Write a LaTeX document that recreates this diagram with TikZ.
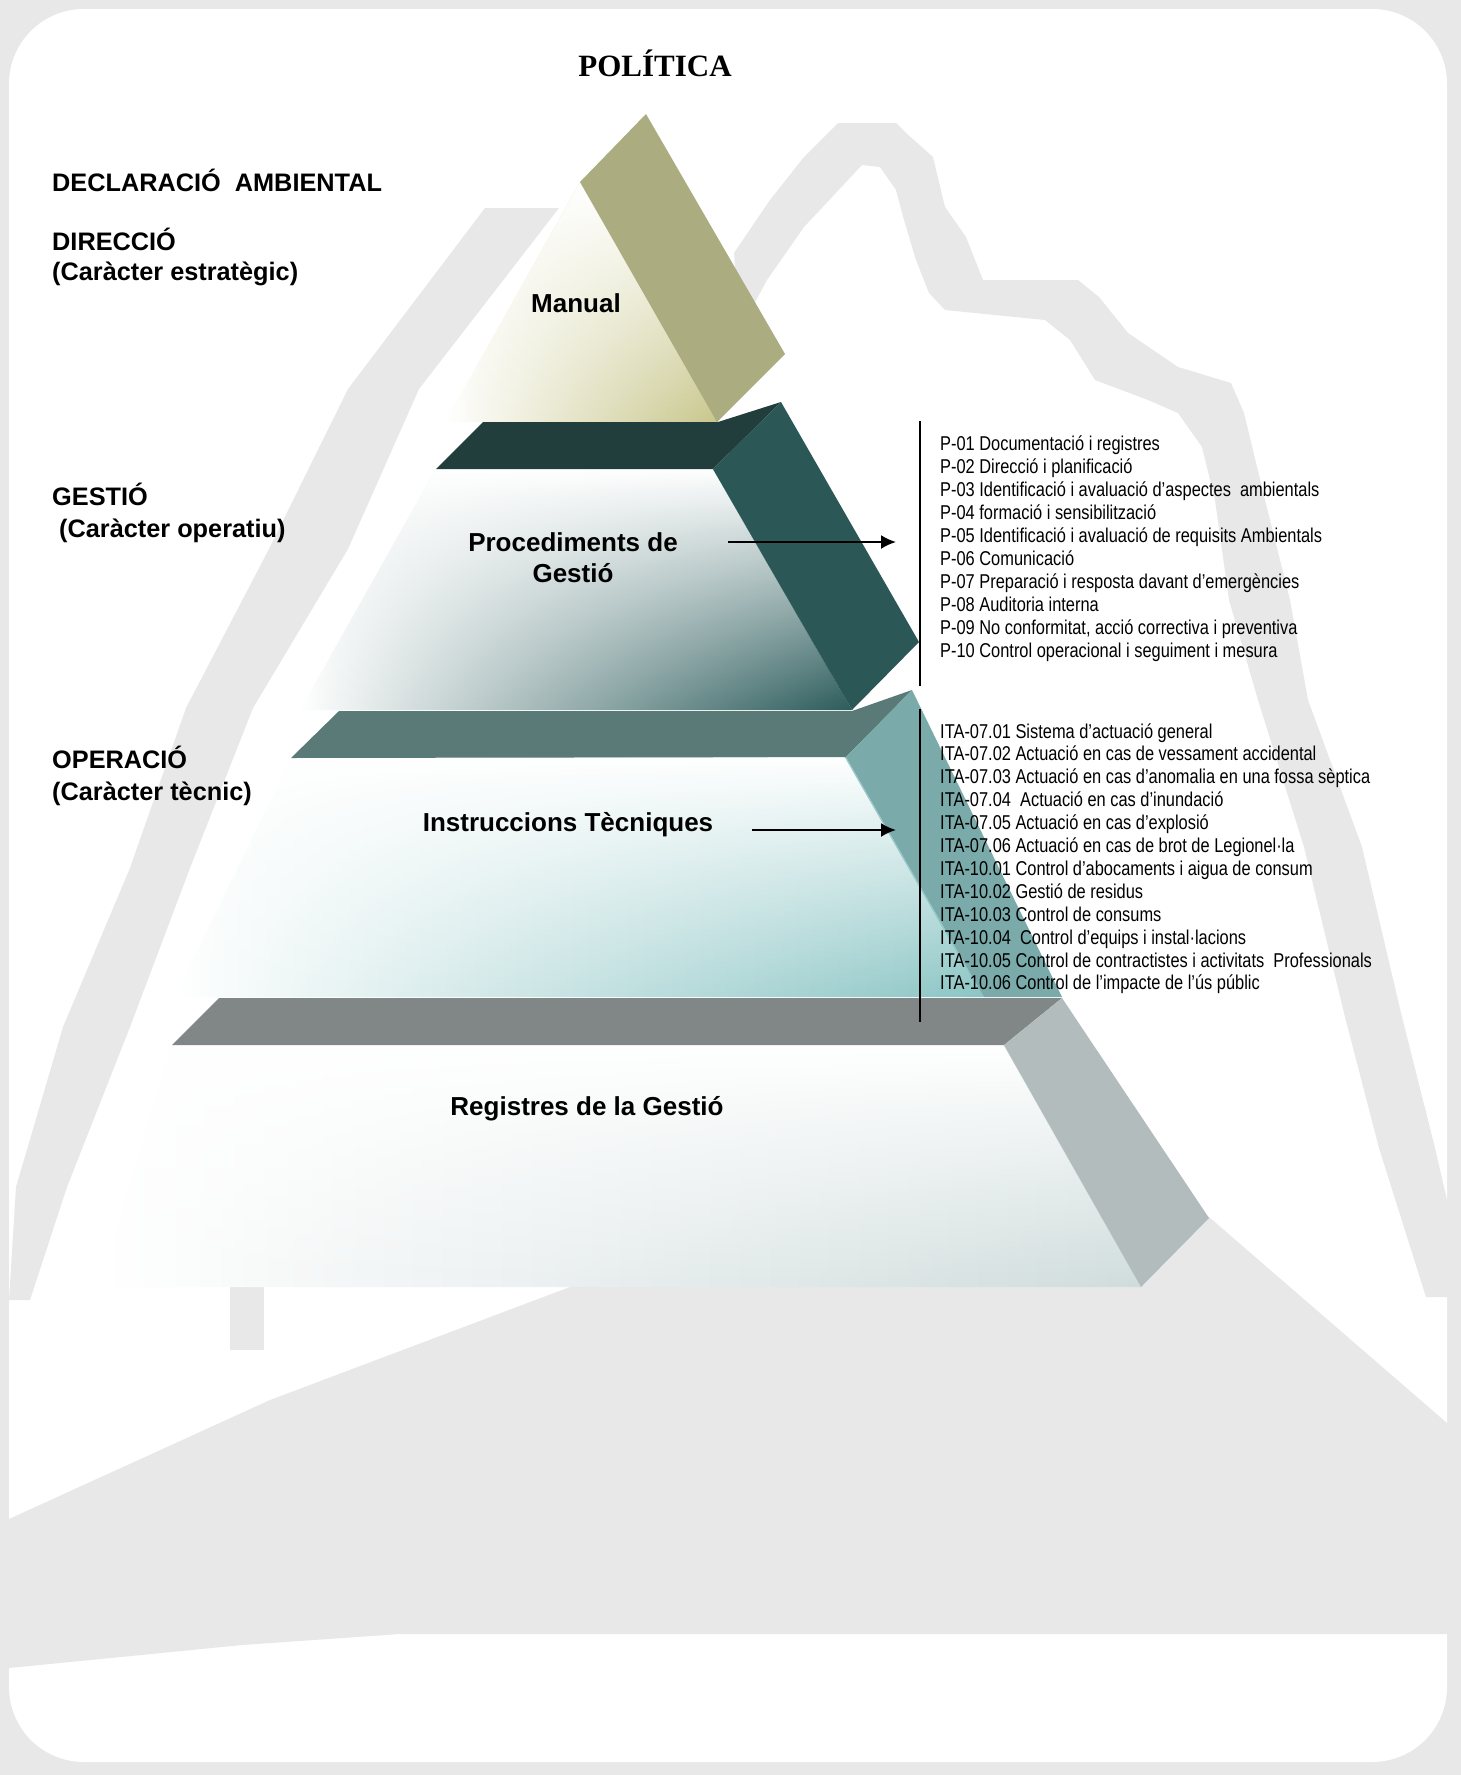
\documentclass[tikz,border=0pt]{standalone}
\usepackage{fontspec}
\setmainfont{Liberation Sans}
\newfontfamily\titlefont{Liberation Serif}
\newfontfamily\narrowfont[FakeStretch=0.82]{Liberation Sans}
\usetikzlibrary{arrows.meta,fadings}

\definecolor{wmark}{HTML}{E8E8E8}
\definecolor{slabolive}{HTML}{ABAD80}
\definecolor{manualc}{HTML}{C9C78C}
\definecolor{manualmid}{HTML}{E0DEBC}
\definecolor{slabtwo}{HTML}{213D3C}
\definecolor{sidetwo}{HTML}{2B5756}
\definecolor{procc}{HTML}{2C5B5B}
\definecolor{procmid}{HTML}{A8B6B6}
\definecolor{slabthree}{HTML}{5A7A78}
\definecolor{sidethree}{HTML}{7AABAA}
\definecolor{instrc}{HTML}{8CC5C5}
\definecolor{instrmid}{HTML}{C8E2E2}
\definecolor{slabfour}{HTML}{808786}
\definecolor{sidefour}{HTML}{B3BCBC}
\definecolor{regc}{HTML}{D0DCDC}
\definecolor{regmid}{HTML}{ECF1F1}

\tikzfading[name=topfade,top color=transparent!0,middle color=transparent!75,bottom color=transparent!100]

\begin{document}
\begin{tikzpicture}[x=1pt,y=-1pt,
    lab/.style={anchor=base west,inner sep=0pt,font=\bfseries\fontsize{25.3}{30}\selectfont},
    tier/.style={anchor=base,inner sep=0pt,font=\bfseries\fontsize{26}{31}\selectfont},
    item/.style={anchor=base west,inner sep=0pt,font=\narrowfont\fontsize{20}{23}\selectfont},
    arr/.style={line width=2pt,-{Latex[length=15pt,width=14pt]}},
    bar/.style={line width=1.8pt},
    whitetop/.style={white,path fading=topfade}]

\useasboundingbox (0,0) rectangle (1461,1775);
\fill[wmark] (0,0) rectangle (1461,1775);
\fill[white,rounded corners=75pt] (9,9) rectangle (1447,1762);

% logo behind
\fill[wmark] (485,208) -- (559,208) -- (419,389) -- (348,549) -- (253,708) -- (190,868) -- (130,1027)
  -- (67,1187) -- (30,1300) -- (9,1300) -- (16,1187) -- (63,1027) -- (130,868) -- (186,708)
  -- (269,549) -- (348,389) -- cycle;
\fill[wmark] (734,253) -- (770,200) -- (804,157) -- (838,123) -- (896,123) -- (906,133) -- (933,157)
  -- (945,207) -- (966,237) -- (983,280) -- (1078,280) -- (1099,297) -- (1128,333) -- (1178,367)
  -- (1231,383) -- (1244,413) -- (1265,500) -- (1290,600) -- (1308,700) -- (1362,847) -- (1401,1013)
  -- (1435,1148) -- (1447,1200) -- (1447,1297) -- (1426,1297) -- (1379,1148) -- (1344,1013)
  -- (1304,847) -- (1258,700) -- (1229,600) -- (1215,500) -- (1202,447) -- (1178,413) -- (1148,400)
  -- (1095,380) -- (1070,340) -- (1045,320) -- (945,310) -- (929,293) -- (916,260) -- (904,220)
  -- (896,190) -- (880,167) -- (862,165) -- (804,227) -- (767,280) -- (740,330) -- cycle;
\fill[wmark] (570,1287) -- (270,1400) -- (9,1519) -- (9,1668) -- (121,1657) -- (242,1645)
  -- (400,1634) -- (1447,1634) -- (1447,1423) -- (1209,1217) -- (700,1150) -- cycle;
\fill[wmark] (230,1286) rectangle (264,1350);

% pyramid
\shade[left color=white,middle color=manualmid,right color=manualc] (580,182) -- (718,422) -- (445,422) -- cycle;
\fill[whitetop] (580,182) -- (718,422) -- (445,422) -- cycle;
\fill[slabolive] (580,182) -- (646,114) -- (785,354) -- (717,422) -- cycle;

\shade[left color=white,middle color=procmid,right color=procc] (436,469) -- (713,469) -- (852,710) -- (300,710) -- cycle;
\fill[whitetop] (436,469) -- (713,469) -- (852,710) -- (300,710) -- cycle;
\fill[slabtwo] (436,469) -- (483,422) -- (718,422) -- (781,402) -- (713,469) -- cycle;

\shade[left color=white,middle color=instrmid,right color=instrc] (291,758) -- (846,757) -- (984,997) -- (175,997) -- cycle;
\fill[whitetop] (291,758) -- (846,757) -- (984,997) -- (175,997) -- cycle;
\fill[slabthree] (291,758) -- (339,711) -- (852,711) -- (912,690) -- (846,757) -- cycle;
\fill[sidetwo] (713,469) -- (781,402) -- (919,642) -- (852,710) -- cycle;
\fill[sidethree] (846,757) -- (912,690) -- (1062,997) -- (984,997) -- cycle;

\shade[left color=white,middle color=regmid,right color=regc] (172,1045) -- (1004,1045) -- (1141,1287) -- (100,1287) -- cycle;
\fill[whitetop] (172,1045) -- (1004,1045) -- (1141,1287) -- (100,1287) -- cycle;
\fill[slabfour] (172,1045) -- (219,998) -- (1062,998) -- (1004,1045) -- cycle;
\fill[sidefour] (1004,1045) -- (1062,998) -- (1209,1218) -- (1141,1287) -- cycle;

% labels
\node[anchor=base,inner sep=0pt,font=\titlefont\bfseries\fontsize{31}{36}\selectfont] (pol) at (655,76) {POLÍTICA};
\node[lab] (decl) at (52,191) {DECLARACIÓ \ AMBIENTAL};
\node[lab] (dir) at (52,250) {DIRECCIÓ};
\node[lab] (dirsub) at (52,280) {(Caràcter estratègic)};
\node[lab] (ges) at (52,505) {GESTIÓ};
\node[lab] (gessub) at (59,537) {(Caràcter operatiu)};
\node[lab] (ope) at (52,768) {OPERACIÓ};
\node[lab] (opesub) at (52,800) {(Caràcter tècnic)};

\node[tier] (manual) at (576,312) {Manual};
\node[tier] (proc) at (573,551) {Procediments de};
\node[tier] (procb) at (573,582) {Gestió};
\node[tier] (instr) at (568,831) {Instruccions Tècniques};
\node[tier] (reg) at (587,1115) {Registres de la Gestió};

% lists
\draw[bar] (920,421) -- (920,686);
\draw[bar] (920,709) -- (920,1022);
\foreach \t [count=\i] in {P-01 Documentació i registres, P-02 Direcció i planificació,
    P-03 Identificació i avaluació d’aspectes \ ambientals, P-04 formació i sensibilització,
    P-05 Identificació i avaluació de requisits Ambientals, P-06 Comunicació,
    P-07 Preparació i resposta davant d’emergències, P-08 Auditoria interna,
    {P-09 No conformitat, acció correctiva i preventiva}, P-10 Control operacional i seguiment i mesura}
  \node[item] (p\i) at (940,{450+23*(\i-1)}) {\t};
\foreach \t [count=\i] in {ITA-07.01 Sistema d’actuació general, ITA-07.02 Actuació en cas de vessament accidental,
    ITA-07.03 Actuació en cas d’anomalia en una fossa sèptica, ITA-07.04 \ Actuació en cas d’inundació,
    ITA-07.05 Actuació en cas d’explosió, ITA-07.06 Actuació en cas de brot de Legionel·la,
    ITA-10.01 Control d’abocaments i aigua de consum, ITA-10.02 Gestió de residus,
    ITA-10.03 Control de consums, ITA-10.04 \ Control d’equips i instal·lacions,
    ITA-10.05 Control de contractistes i activitats \ Professionals, ITA-10.06 Control de l’impacte de l’ús públic}
  \node[item] (ita\i) at (940,{738+22.9*(\i-1)}) {\t};

\coordinate (procA) at (728,542);
\coordinate (procB) at (896,542);
\coordinate (instrA) at (752,830);
\coordinate (instrB) at (896,830);
\draw[arr] (procA) -- (procB);
\draw[arr] (instrA) -- (instrB);
\end{tikzpicture}
\end{document}
